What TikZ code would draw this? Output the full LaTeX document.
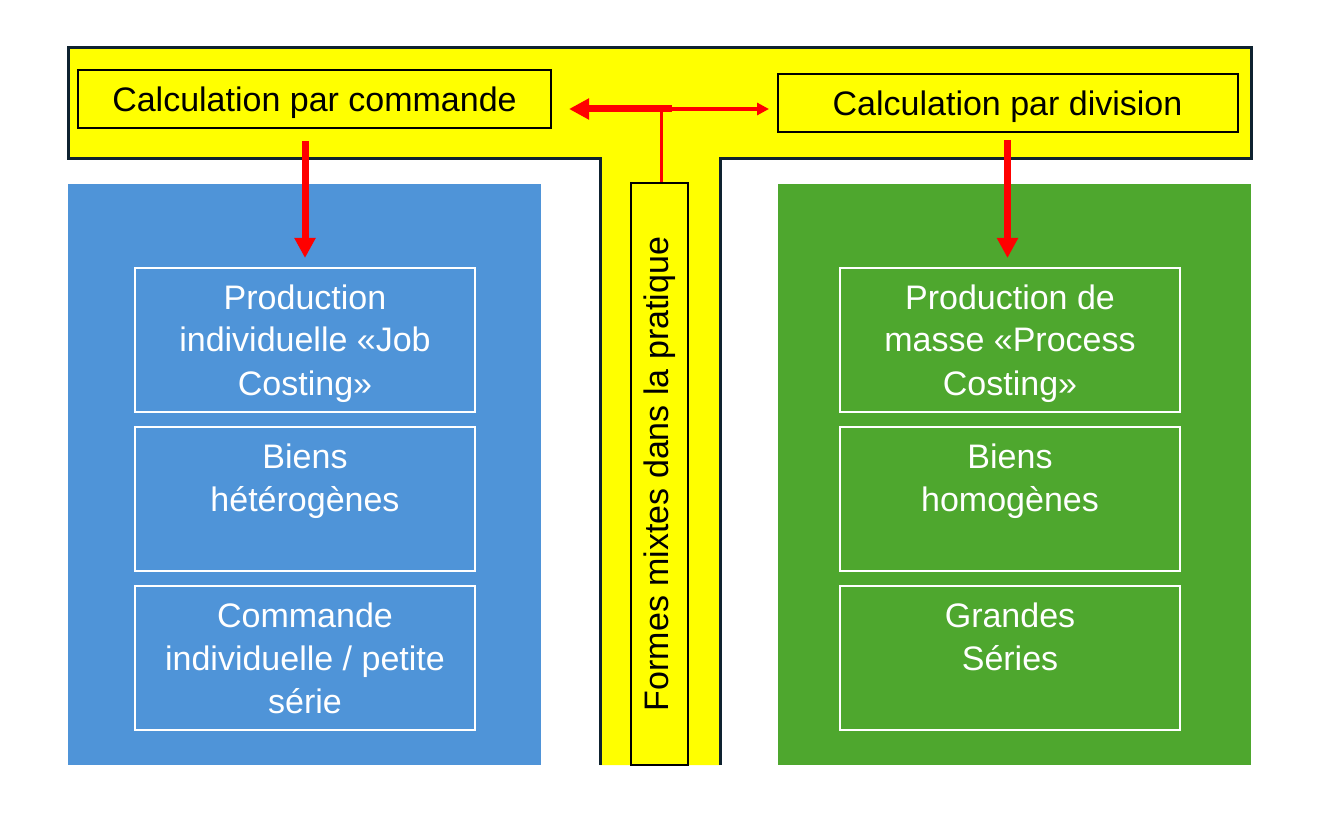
\documentclass[tikz,border=0pt]{standalone}
\usepackage{fontspec}
\setmainfont{Liberation Sans}
\usetikzlibrary{arrows.meta}
\definecolor{tyellow}{RGB}{255,255,0}
\definecolor{tnavy}{RGB}{14,34,48}
\definecolor{tblue}{RGB}{79,148,216}
\definecolor{tgreen}{RGB}{78,167,46}
\definecolor{tred}{RGB}{255,0,0}
\begin{document}
\begin{tikzpicture}[x=1pt,y=-1pt,
  panel/.style={draw=none,inner sep=0pt,minimum width=473pt,minimum height=581pt},
  topbox/.style={draw=black,line width=2pt,fill=tyellow,inner sep=0pt,minimum height=58pt,
    text height=25pt,text depth=0pt,font=\fontsize{34}{40}\selectfont},
  innerbox/.style={draw=white,line width=2pt,inner sep=0pt,text=white,
    font=\fontsize{34}{43}\selectfont},
  bigarrow/.style={draw=tred,line width=7pt,-{Triangle[length=20pt,width=20pt]}},
  thinarrow/.style={draw=tred,line width=3.5pt,-{Triangle[length=12pt,width=12pt]}},
  redline/.style={draw=tred,line width=3pt}
]
\useasboundingbox (0,0) rectangle (1320,826);
\fill[white] (0,0) rectangle (1320,826);
% T shape
\fill[tyellow] (600,765) -- (600,159) -- (68,159) -- (68,48) -- (1251,48) -- (1251,159) -- (720,159) -- (720,765) -- cycle;
\draw[tnavy,line width=3pt] (600,765) -- (600,159) -- (68,159) -- (68,48) -- (1251,48) -- (1251,159) -- (720,159) -- (720,765);
% panels
\node[panel,fill=tblue] (bluep) at (304.5,474.5) {};
\node[panel,fill=tgreen] (greenp) at (1014.5,474.5) {};
% top boxes
\node[topbox,minimum width=473pt] (cmd) at (314.5,99) {Calculation par commande};
\node[topbox,minimum width=460pt] (div) at (1007.5,103.5) {Calculation par division};
% vertical box
\node[draw=black,line width=2pt,fill=tyellow,inner sep=0pt,rotate=90,
  minimum width=582pt,minimum height=57pt,font=\fontsize{34}{40}\selectfont] (mix) at (659.5,474) {Formes mixtes dans la pratique};
% inner boxes
\newcommand{\boxtext}[1]{\parbox[c][144pt][t]{340pt}{\centering\rule{0pt}{41pt}#1}}
\node[innerbox] (b1) at (305,340) {\boxtext{Production\\individuelle «Job\\Costing»}};
\node[innerbox] (b2) at (305,499) {\boxtext{Biens\\hétérogènes}};
\node[innerbox] (b3) at (305,658) {\boxtext{Commande\\individuelle / petite\\série}};
\node[innerbox] (g1) at (1010,340) {\boxtext{Production de\\masse «Process\\Costing»}};
\node[innerbox] (g2) at (1010,499) {\boxtext{Biens\\homogènes}};
\node[innerbox] (g3) at (1010,658) {\boxtext{Grandes\\Séries}};
% arrows down
\draw[bigarrow,shorten <=12pt,shorten >=9pt] (cmd.south -| b1.north) -- (b1.north);
\draw[bigarrow,shorten <=6.5pt,shorten >=9pt] (div.south) -- (div.south |- g1.north);
% horizontal arrows
\coordinate (j) at (661,109);
\coordinate (jt) at (672,109);
\coordinate (lt) at (569,109);
\coordinate (rt) at (769,109);
\draw[redline] (mix.east -| j) -- (j);
\draw[bigarrow] (jt) -- (lt);
\draw[thinarrow] (j) -- (rt);
\end{tikzpicture}
\end{document}
